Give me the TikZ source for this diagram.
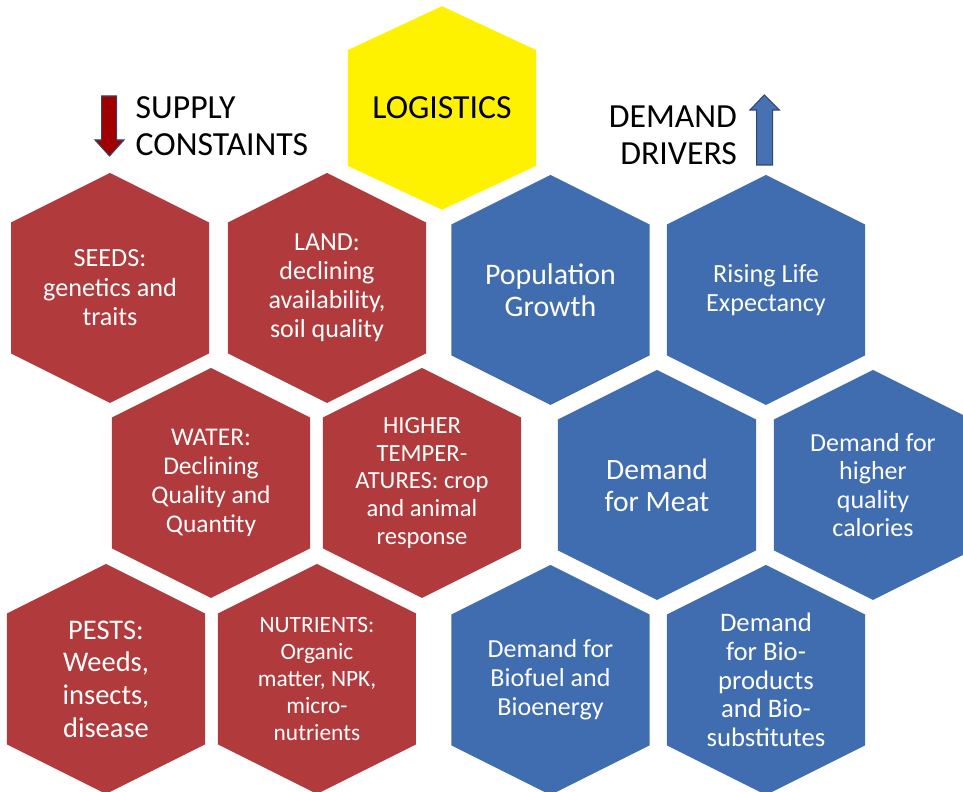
\documentclass[tikz,border=0pt]{standalone}
\usepackage{fontspec}
\setmainfont{Carlito}
\definecolor{supplyred}{RGB}{176,58,60}
\definecolor{demandblue}{RGB}{64,108,176}
\definecolor{arrowred}{RGB}{160,0,0}
\definecolor{arrowblue}{RGB}{70,114,180}
\definecolor{arrowline}{RGB}{50,70,110}
\tikzset{
  supply/.style={fill=supplyred},
  demand/.style={fill=demandblue},
  logistics/.style={fill=yellow,xscale=0.95,yscale=0.885},
  celltext/.style={text=white,align=center,inner sep=0pt},
  heading/.style={font=\fontsize{9.6}{10.5}\selectfont,inner sep=0pt},
}
\newcommand{\hexcell}[5]{%
  \fill[shift={(#2)},#3] (0,1.15)--(0.99,0.655)--(0.99,-0.655)--(0,-1.15)--(-0.99,-0.655)--(-0.99,0.655)--cycle;
  \node[celltext,#4](#1)at(#2){#5};
}
\begin{document}
\begin{tikzpicture}
  \useasboundingbox (0,0) rectangle (9.63,7.92);
  \clip (0,0) rectangle (9.63,7.92);
  \hexcell{logistics}{4.42,6.84}{logistics}{text=black,font=\fontsize{9.6}{10.5}\selectfont}{LOGISTICS}
  % supply side
  \hexcell{seeds}{1.10,5.04}{supply}{font=\fontsize{7.45}{8.4}\selectfont}{SEEDS:\\genetics and\\traits}
  \hexcell{land}{3.27,5.04}{supply}{font=\fontsize{7.4}{8.3}\selectfont}{LAND:\\declining\\availability,\\soil quality}
  \hexcell{water}{2.11,3.09}{supply}{font=\fontsize{7.25}{8.3}\selectfont}{WATER:\\Declining\\Quality and\\Quantity}
  \hexcell{heat}{4.22,3.09}{supply}{font=\fontsize{7}{7.9}\selectfont}{HIGHER\\TEMPER-\\ATURES: crop\\and animal\\response}
  \hexcell{pests}{1.06,1.13}{supply}{font=\fontsize{8.1}{9.3}\selectfont}{PESTS:\\Weeds,\\insects,\\disease}
  \hexcell{nutrients}{3.17,1.13}{supply}{font=\fontsize{6.65}{7.7}\selectfont}{NUTRIENTS:\\Organic\\matter, NPK,\\micro-\\nutrients}
  % demand side
  \hexcell{population}{5.505,5.02}{demand}{font=\fontsize{8.5}{9}\selectfont}{Population\\Growth}
  \hexcell{life}{7.66,5.02}{demand}{font=\fontsize{7.45}{8.1}\selectfont}{Rising Life\\Expectancy}
  \hexcell{meat}{6.57,3.07}{demand}{font=\fontsize{8.4}{9.1}\selectfont}{Demand\\for Meat}
  \hexcell{calories}{8.73,3.07}{demand}{font=\fontsize{7.4}{8.1}\selectfont}{Demand for\\higher\\quality\\calories}
  \hexcell{biofuel}{5.505,1.12}{demand}{font=\fontsize{7.4}{8.3}\selectfont}{Demand for\\Biofuel and\\Bioenergy}
  \hexcell{bioproducts}{7.66,1.12}{demand}{font=\fontsize{7.6}{8.2}\selectfont}{Demand\\for Bio-\\products\\and Bio-\\substitutes}
  % headings and arrows
  \node[heading,anchor=west,align=left](supplyhead)at(1.35,6.66){SUPPLY\\CONSTAINTS};
  \node[heading,anchor=east,align=right](demandhead)at(7.377,6.57){DEMAND\\DRIVERS};
  \filldraw[fill=arrowred,draw=arrowline,line width=0.3pt] (1.017,6.96)--(1.167,6.96)--(1.167,6.52)--(1.24,6.52)--(1.095,6.36)--(0.95,6.52)--(1.017,6.52)--cycle;
  \filldraw[fill=arrowblue,draw=arrowline,line width=0.3pt] (7.567,6.27)--(7.727,6.27)--(7.727,6.82)--(7.793,6.82)--(7.643,6.97)--(7.50,6.82)--(7.567,6.82)--cycle;
\end{tikzpicture}
\end{document}
